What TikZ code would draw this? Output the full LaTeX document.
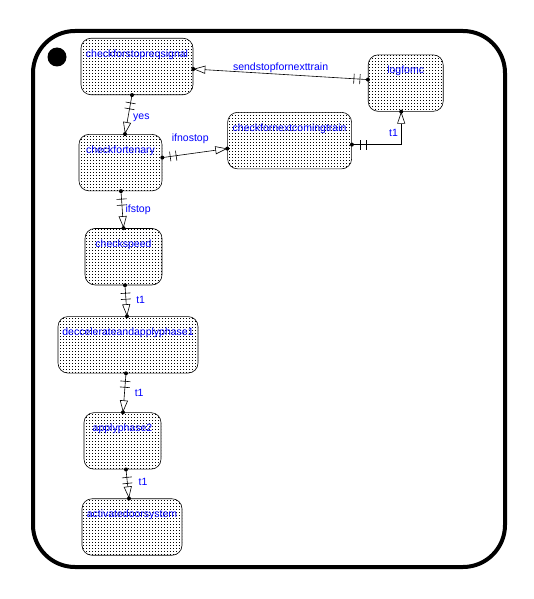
\documentclass[tikz,border=0pt]{standalone}
\usepackage{fontspec}
\setmainfont{Liberation Sans}
\usetikzlibrary{arrows.meta, positioning, patterns, decorations.markings}

\pgfdeclarepatternformonly{statedots}{\pgfpointorigin}{\pgfpoint{2.6pt}{2.6pt}}{\pgfpoint{2.6pt}{2.6pt}}%
  {\pgfpathrectangle{\pgfpointorigin}{\pgfpoint{0.9pt}{0.9pt}}\pgfusepath{fill}}

\tikzset{
  stbox/.style={draw, rounded corners=10pt, line width=0.6pt, pattern=statedots,
    minimum width=#1, inner xsep=0pt, inner ysep=0pt, text height=19pt, text depth=37.5pt,
    font=\fontsize{10.5}{12}\selectfont, text=blue},
  lbl/.style={text=blue, font=\fontsize{10.5}{12}\selectfont, inner sep=1pt},
  tr/.style={line width=0.6pt, -{Triangle[open, length=12pt, width=8pt]},
    postaction={decorate},
    decoration={markings,
      mark=at position 0 with {\fill circle (2pt);},
      mark=at position 8pt with {\draw[-, line width=0.6pt] (0,-5pt) -- (0,5pt);},
      mark=at position 14pt with {\draw[-, line width=0.6pt] (0,-5pt) -- (0,5pt);},
      mark=at position 1 with {\fill circle (2pt);}}}
}

\begin{document}
\begin{tikzpicture}[x=1pt, y=-1pt]
        \useasboundingbox (0,0) rectangle (534,599);
        \draw[line width=4pt, rounded corners=42pt] (33,31) rectangle (505,567);
        \fill (57,57) circle (9.5pt);

        \node[stbox=112pt] (cfs) at (137,66.5) {checkforstopreqsignal};
        \node[stbox=83pt, below=39pt of cfs, xshift=-16.5pt] (cft) {checkfortenary};
        \node[stbox=124pt, right=65pt of cft, yshift=22pt] (cfn) {checkfornextcomingtrain};
        \node[stbox=75pt, right=16pt of cfn, yshift=57.5pt] (log) {logfomc};
        \node[stbox=77pt, below=37pt of cft, xshift=3pt] (csp) {checkspeed};
        \node[stbox=140pt, below=31pt of csp, xshift=4.5pt] (dec) {deccelerateandapplyphase1};
        \node[stbox=77pt, below=39pt of dec, xshift=-5.5pt] (ap2) {applyphase2};
        \node[stbox=100pt, below=29pt of ap2, xshift=9.5pt] (ads) {activatedoorsystem};

        \draw[tr] ([xshift=-5pt]cfs.south) -- node[lbl, right=4pt, pos=.58] {yes} ([xshift=4.5pt]cft.north);
        \draw[tr] ([yshift=5pt]cft.east) -- node[lbl, above=9pt, pos=.43] {ifnostop} ([yshift=-8pt]cfn.west);
        \draw[tr] ([yshift=-4pt]cfn.east) -| node[lbl, left=2pt, pos=.67] {t1} ([xshift=-4.5pt]log.south);
        \draw[tr] ([yshift=3.5pt]log.west) -- node[lbl, above=0pt, pos=.5] {sendstopfornexttrain} ([yshift=-2.5pt]cfs.east);
        \draw[tr] ([xshift=0.5pt]cft.south) -- node[lbl, right=2pt, pos=.51] {ifstop} (csp.north);
        \draw[tr] ([xshift=1.5pt]csp.south) -- node[lbl, right=9pt, pos=.48] {t1} ([xshift=-1pt]dec.north);
        \draw[tr] ([xshift=-2pt]dec.south) -- node[lbl, right=9pt, pos=.51] {t1} ([xshift=0.5pt]ap2.north);
        \draw[tr] ([xshift=3.5pt]ap2.south) -- node[lbl, right=10pt, pos=.43] {t1} ([xshift=-3pt]ads.north);
    \end{tikzpicture}
\end{document}
